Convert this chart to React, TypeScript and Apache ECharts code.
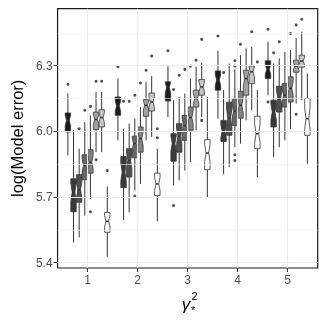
import React, { useEffect, useRef } from "react";
import * as echarts from "echarts";

// x categories (gamma*^2)
const groups = [1, 2, 3, 4, 5];
const xTickLabels = ["1", "2", "3", "4", "5"];
const yTickValues = [5.4, 5.7, 6.0, 6.3];
const yMinorValues = [5.55, 5.85, 6.15, 6.45];

// fills of the 8 dodged boxes in each group
const fills = ["#1c1c1c", "#3a3a3a", "#4f4f4f", "#686868", "#838383", "#a2a2a2", "#c6c6c6", "#ffffff"];

// each box: [lower whisker, Q1, median, Q3, upper whisker]
const g1Boxes = [
  [5.89, 5.997, 6.05, 6.084, 6.173],
  [5.493, 5.633, 5.722, 5.783, 6.005],
  [5.516, 5.676, 5.733, 5.802, 5.921],
  [5.615, 5.779, 5.844, 5.893, 6.043],
  [5.692, 5.809, 5.859, 5.916, 6.073],
  [5.905, 6.008, 6.054, 6.088, 6.18],
  [5.905, 6.02, 6.063, 6.099, 6.18],
  [5.427, 5.539, 5.589, 5.63, 5.748],
];
const g2Boxes = [
  [5.959, 6.073, 6.116, 6.157, 6.241],
  [5.595, 5.743, 5.814, 5.885, 6.012],
  [5.63, 5.791, 5.867, 5.921, 6.035],
  [5.73, 5.879, 5.944, 5.978, 6.058],
  [5.76, 5.905, 5.967, 6.02, 6.111],
  [5.959, 6.069, 6.119, 6.145, 6.226],
  [5.974, 6.093, 6.134, 6.175, 6.252],
  [5.589, 5.707, 5.76, 5.809, 5.921],
];
const g3Boxes = [
  [6.065, 6.139, 6.2, 6.226, 6.298],
  [5.753, 5.864, 5.944, 5.989, 6.142],
  [5.776, 5.905, 5.977, 6.035, 6.157],
  [5.821, 5.959, 6.027, 6.073, 6.173],
  [5.859, 6.005, 6.063, 6.111, 6.241],
  [6.005, 6.111, 6.15, 6.188, 6.295],
  [6.065, 6.165, 6.203, 6.237, 6.313],
  [5.699, 5.825, 5.901, 5.962, 6.157],
];
const g4Boxes = [
  [6.058, 6.188, 6.234, 6.276, 6.368],
  [5.804, 5.954, 6.0, 6.05, 6.188],
  [5.836, 5.982, 6.06, 6.133, 6.31],
  [5.928, 6.027, 6.092, 6.147, 6.283],
  [5.944, 6.06, 6.119, 6.183, 6.348],
  [6.05, 6.165, 6.241, 6.279, 6.379],
  [6.096, 6.218, 6.272, 6.298, 6.386],
  [5.791, 5.921, 5.989, 6.069, 6.188],
];
const g5Boxes = [
  [6.165, 6.241, 6.283, 6.322, 6.409],
  [5.882, 6.02, 6.088, 6.142, 6.31],
  [5.928, 6.088, 6.15, 6.206, 6.333],
  [5.959, 6.111, 6.165, 6.218, 6.363],
  [6.012, 6.134, 6.196, 6.249, 6.371],
  [6.127, 6.27, 6.298, 6.325, 6.425],
  [6.142, 6.293, 6.321, 6.348, 6.455],
  [5.852, 5.982, 6.058, 6.15, 6.264],
];

// outliers: [box index, value]
const g1Outliers = [[0, 6.215], [2, 6.012], [3, 6.096], [4, 6.114], [4, 5.633], [5, 6.229], [5, 5.87], [6, 6.229], [7, 5.821]];
const g2Outliers = [[0, 6.295], [1, 6.137], [2, 6.137], [3, 6.165], [3, 5.704], [4, 6.221], [5, 6.279], [6, 6.344], [7, 6.012], [7, 5.971]];
const g3Outliers = [[0, 6.368], [1, 6.191], [1, 5.661], [2, 6.256], [3, 6.283], [4, 6.298], [5, 6.325], [6, 6.42], [6, 6.05]];
const g4Outliers = [[0, 6.435], [1, 6.269], [3, 6.322], [3, 6.298], [3, 5.893], [3, 5.867], [4, 6.398], [6, 6.455], [7, 6.317]];
const g5Outliers = [[0, 6.466], [0, 6.134], [1, 6.359], [2, 6.409], [4, 6.447], [5, 6.486], [5, 6.078], [6, 6.512]];

const allBoxes = [g1Boxes, g2Boxes, g3Boxes, g4Boxes, g5Boxes];
const allOutliers = [g1Outliers, g2Outliers, g3Outliers, g4Outliers, g5Outliers];

const DODGE = 0.9 / 8;
const BOX_W = 0.108;
const N_OBS = 30;
const INK = "#333333";

export default function App() {
  const ref = useRef<HTMLDivElement>(null);
  useEffect(() => {
    if (!ref.current) return;
    const chart = echarts.init(ref.current, null, { renderer: "svg" });

    const boxData: number[][] = [];
    const outData: number[][] = [];
    groups.forEach((g, gi) => {
      allBoxes[gi].forEach((b, k) => {
        const x = g + (k - 3.5) * DODGE;
        boxData.push([x, b[0], b[1], b[2], b[3], b[4], k]);
      });
      allOutliers[gi].forEach(([k, v]) => {
        outData.push([g + (k - 3.5) * DODGE, v]);
      });
    });

    const renderItem = (params: any, api: any) => {
      const x = api.value(0);
      const lo = api.value(1), q1 = api.value(2), med = api.value(3), q3 = api.value(4), hi = api.value(5);
      const k = api.value(6);
      const w = api.size([BOX_W, 0])[0];
      const [cx, yMed] = api.coord([x, med]);
      const yLo = api.coord([x, lo])[1];
      const yQ1 = api.coord([x, q1])[1];
      const yQ3 = api.coord([x, q3])[1];
      const yHi = api.coord([x, hi])[1];
      const notch = (1.58 * (q3 - q1)) / Math.sqrt(N_OBS);
      const nTop = api.coord([x, Math.min(med + notch, q3)])[1];
      const nBot = api.coord([x, Math.max(med - notch, q1)])[1];
      const L = cx - w / 2, R = cx + w / 2, iL = cx - w / 4, iR = cx + w / 4;
      return {
        type: "group",
        children: [
          { type: "line", shape: { x1: cx, y1: yHi, x2: cx, y2: yQ3 }, style: { stroke: INK, lineWidth: 1 } },
          { type: "line", shape: { x1: cx, y1: yQ1, x2: cx, y2: yLo }, style: { stroke: INK, lineWidth: 1 } },
          {
            type: "polygon",
            shape: {
              points: [[L, yQ3], [R, yQ3], [R, nTop], [iR, yMed], [R, nBot], [R, yQ1], [L, yQ1], [L, nBot], [iL, yMed], [L, nTop]],
            },
            style: { fill: fills[k], stroke: INK, lineWidth: 0.8 },
          },
          { type: "line", shape: { x1: iL, y1: yMed, x2: iR, y2: yMed }, style: { stroke: INK, lineWidth: 1.5 } },
        ],
      };
    };

    const gridLines: any[] = [];
    yTickValues.forEach((v) => gridLines.push({ yAxis: v, lineStyle: { color: "#ebebeb", width: 1.1, type: "solid" } }));
    yMinorValues.forEach((v) => gridLines.push({ yAxis: v, lineStyle: { color: "#f3f3f3", width: 0.6, type: "solid" } }));
    groups.forEach((g) => gridLines.push({ xAxis: g, lineStyle: { color: "#ebebeb", width: 1.1, type: "solid" } }));

    const fontFamily = "'Liberation Sans', Arial, sans-serif";

    chart.setOption({
      animation: false,
      grid: { left: 54.7, right: 9.3, top: 8.7, bottom: 59, show: true, borderColor: "#1a1a1a", borderWidth: 1.2, backgroundColor: "#ffffff" },
      xAxis: {
        type: "value",
        min: 0.4,
        max: 5.6,
        splitLine: { show: false },
        axisLine: { show: false },
        axisTick: { show: true, customValues: groups, length: 4, lineStyle: { color: INK } },
        axisLabel: {
          customValues: groups,
          formatter: (v: number) => xTickLabels[groups.indexOf(Math.round(v))] ?? "",
          color: "#4d4d4d",
          fontSize: 12,
          margin: 6,
          fontFamily,
        },
      },
      yAxis: {
        type: "value",
        min: 5.376,
        max: 6.56,
        splitLine: { show: false },
        axisLine: { show: false },
        axisTick: { show: true, customValues: yTickValues, length: 4, lineStyle: { color: INK } },
        axisLabel: {
          customValues: yTickValues,
          formatter: (v: number) => v.toFixed(1),
          color: "#4d4d4d",
          fontSize: 12,
          margin: 5,
          fontFamily,
        },
        name: "log(Model error)",
        nameLocation: "middle",
        nameGap: 32,
        nameRotate: 90,
        nameTextStyle: { color: "#000", fontSize: 16.5, fontFamily },
      },
      series: [
        {
          type: "line",
          data: [],
          z: 1,
          silent: true,
          markLine: { silent: true, symbol: "none", label: { show: false }, data: gridLines, animation: false },
        },
        {
          type: "scatter",
          data: outData,
          symbol: "circle",
          symbolSize: 3,
          itemStyle: { color: "#222" },
          z: 3,
          silent: true,
        },
        {
          type: "custom",
          data: boxData,
          renderItem,
          encode: { x: 0, y: [1, 2, 3, 4, 5] },
          z: 4,
          silent: true,
        },
      ],
      graphic: [
        { type: "text", x: 186, y: 304, style: { text: "γ", fontSize: 17, fontStyle: "italic", fontFamily, fill: "#000", align: "center", verticalAlign: "middle" } },
        { type: "text", x: 191.5, y: 296, style: { text: "2", fontSize: 11, fontFamily, fill: "#000", align: "left", verticalAlign: "middle" } },
        { type: "text", x: 191, y: 310, style: { text: "*", fontSize: 11, fontFamily, fill: "#000", align: "left", verticalAlign: "middle" } },
      ],
    });
    return () => chart.dispose();
  }, []);
  return <div ref={ref} style={{ position: "fixed", left: 0, top: 0, width: 327, height: 327 }} />;
}
